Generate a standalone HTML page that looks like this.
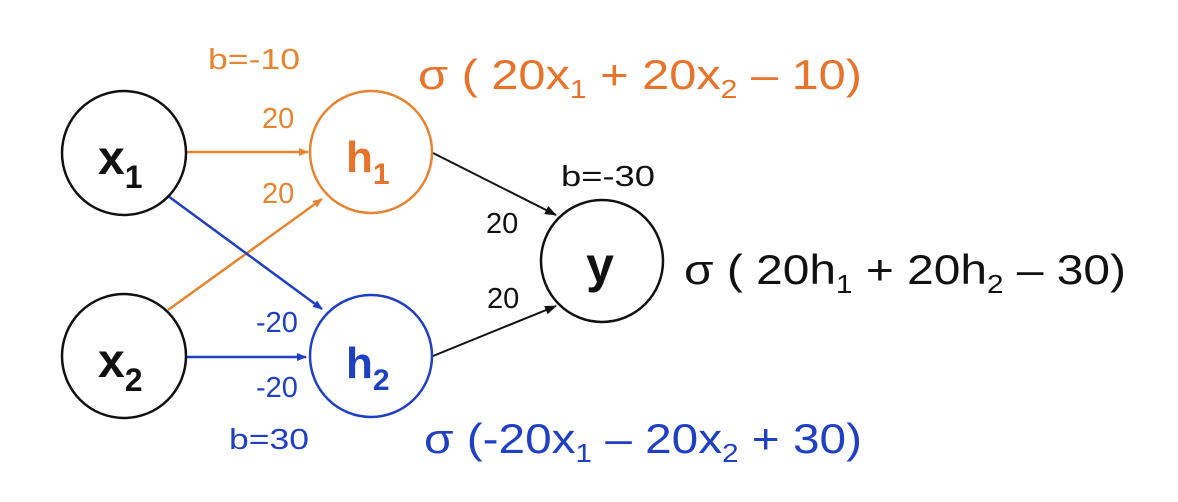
<!DOCTYPE html>
<html><head><meta charset="utf-8"><style>
html,body{margin:0;padding:0;background:#fff;}
svg{display:block;font-family:"Liberation Sans",sans-serif;}
</style></head><body>
<svg width="1178" height="502" viewBox="0 0 1178 502">
<defs>
<marker id="ao" markerWidth="10" markerHeight="8" refX="9" refY="4" orient="auto" markerUnits="userSpaceOnUse"><path d="M0,0 L10,4 L0,8 Z" fill="#e8832f"/></marker>
<marker id="ab" markerWidth="10" markerHeight="8" refX="9" refY="4" orient="auto" markerUnits="userSpaceOnUse"><path d="M0,0 L10,4 L0,8 Z" fill="#1f3fc4"/></marker>
<marker id="ak" markerWidth="12" markerHeight="9" refX="11" refY="4.5" orient="auto" markerUnits="userSpaceOnUse"><path d="M0,0 L12,4.5 L0,9 Z" fill="#111"/></marker>
</defs>
<rect width="1178" height="502" fill="#fff"/>
<line x1="187" y1="152" x2="308" y2="152" stroke="#e8832f" stroke-width="2.5" marker-end="url(#ao)"/>
<line x1="168" y1="310" x2="322" y2="199" stroke="#e8832f" stroke-width="2.5" marker-end="url(#ao)"/>
<line x1="168" y1="196" x2="322" y2="309" stroke="#1f3fc4" stroke-width="2.5" marker-end="url(#ab)"/>
<line x1="187" y1="357" x2="306" y2="357" stroke="#1f3fc4" stroke-width="2.5" marker-end="url(#ab)"/>
<line x1="433" y1="153" x2="556" y2="215" stroke="#111" stroke-width="2" marker-end="url(#ak)"/>
<line x1="433" y1="356" x2="556" y2="306" stroke="#111" stroke-width="2" marker-end="url(#ak)"/>
<g><circle cx="124" cy="153" r="62" fill="none" stroke="#111" stroke-width="2.5"/>
<text x="98" y="174" font-size="48" font-weight="bold" fill="#111">x<tspan font-size="32" dy="14">1</tspan></text></g>
<g><circle cx="124" cy="356" r="62" fill="none" stroke="#111" stroke-width="2.5"/>
<text x="98" y="377" font-size="48" font-weight="bold" fill="#111">x<tspan font-size="32" dy="14">2</tspan></text></g>
<g><circle cx="371" cy="152" r="61" fill="none" stroke="#e8832f" stroke-width="2.5"/>
<text x="346" y="172" font-size="44" font-weight="bold" fill="#e8732a">h<tspan font-size="30" dy="12">1</tspan></text></g>
<g><circle cx="371" cy="356" r="61" fill="none" stroke="#1f3fc4" stroke-width="2.5"/>
<text x="346" y="378" font-size="44" font-weight="bold" fill="#1f3fc4">h<tspan font-size="30" dy="12">2</tspan></text></g>
<g><circle cx="602" cy="261" r="61" fill="none" stroke="#111" stroke-width="2.5"/>
<text x="600" y="282" font-size="50" font-weight="bold" fill="#111" text-anchor="middle">y</text></g>
<text x="208" y="69" font-size="29" fill="#e8832f" textLength="92" lengthAdjust="spacingAndGlyphs">b=-10</text>
<text x="262" y="128" font-size="29" fill="#e8832f">20</text>
<text x="262" y="203" font-size="29" fill="#e8832f">20</text>
<text x="256" y="332" font-size="29" fill="#1f3fc4">-20</text>
<text x="256" y="397" font-size="29" fill="#1f3fc4">-20</text>
<text x="229" y="449" font-size="29" fill="#1f3fc4" textLength="80" lengthAdjust="spacingAndGlyphs">b=30</text>
<text x="561" y="186" font-size="29" fill="#111" textLength="94" lengthAdjust="spacingAndGlyphs">b=-30</text>
<text x="486" y="233" font-size="29" fill="#111">20</text>
<text x="487" y="308" font-size="29" fill="#111">20</text>
<text x="418" y="89" font-size="42" fill="#e8732a" textLength="444" lengthAdjust="spacingAndGlyphs">σ ( 20x<tspan font-size="26" dy="9">1</tspan><tspan dy="-9"> + 20x</tspan><tspan font-size="26" dy="9">2</tspan><tspan dy="-9"> – 10)</tspan></text>
<text x="684" y="284" font-size="42" fill="#111" textLength="442" lengthAdjust="spacingAndGlyphs">σ ( 20h<tspan font-size="26" dy="9">1</tspan><tspan dy="-9"> + 20h</tspan><tspan font-size="26" dy="9">2</tspan><tspan dy="-9"> – 30)</tspan></text>
<text x="424" y="453" font-size="42" fill="#1f3fc4" textLength="438" lengthAdjust="spacingAndGlyphs">σ (-20x<tspan font-size="26" dy="9">1</tspan><tspan dy="-9"> – 20x</tspan><tspan font-size="26" dy="9">2</tspan><tspan dy="-9"> + 30)</tspan></text>
</svg>
</body></html>
